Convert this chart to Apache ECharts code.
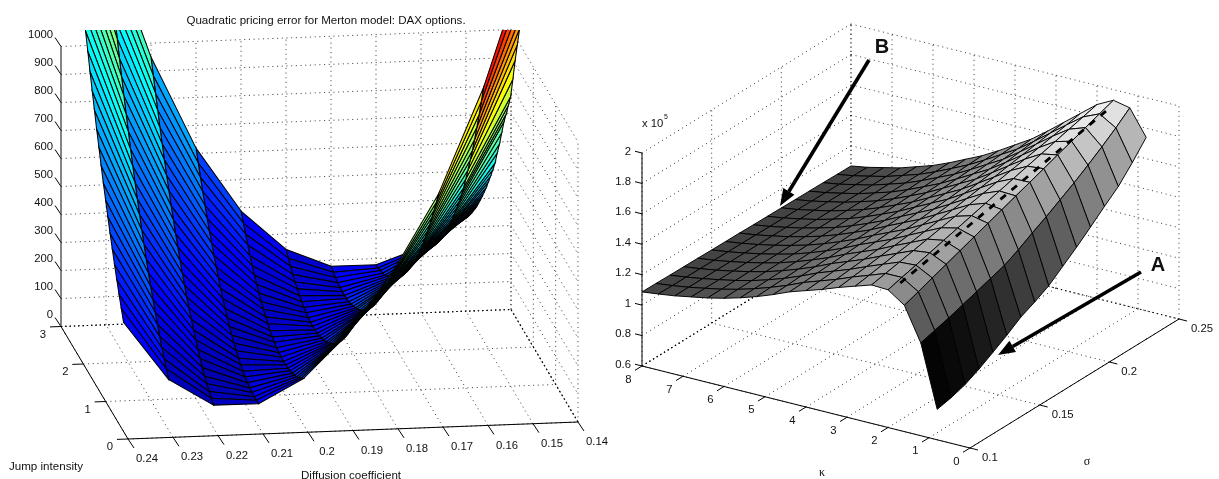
<!DOCTYPE html>
<html><head><meta charset="utf-8">
<style>html,body{margin:0;padding:0;background:#fff}#c{width:1219px;height:479px}</style>
<script src="https://cdn.jsdelivr.net/npm/echarts@6/dist/echarts.min.js"></script>
</head><body><div id="c"></div>
<script>
// ---------- left panel data: quadratic pricing error, one list per diffusion coefficient, jump 0.2..3
const diffusion=[0.15,0.16,0.17,0.18,0.19,0.20,0.21,0.22,0.23,0.24];
const jumpIntensity=[0.2,0.3,0.4,0.5,0.6,0.7,0.8,0.9,1.0,1.1,1.2,1.3,1.4,1.5,1.6,1.7,1.8,1.9,2.0,2.1,2.2,2.3,2.4,2.5,2.6,2.7,2.8,2.9,3.0];
const err015=[1660,1570,1480,1400,1330,1260,1190,1110,1035,990,945,904,851,798,752,703,666,629,595,561,530,500,472,445,419,395,373,351,332];
const err016=[1180,1117,1056,998,941,888,840,791,745,700,662,625,590,556,523,493,464,436,410,385,362,341,321,302,285,269,256,243,233];
const err017=[806,763,722,682,643,606,571,537,505,474,444,417,390,366,342,321,301,282,265,249,235,223,212,203,194,188,184,180,178];
const err018=[538,505,473,443,413,386,361,336,314,292,273,255,238,223,209,197,187,177,170,164,159,157,155,155,156,160,165,171,179];
const err019=[321,298,276,256,236,219,204,190,177,166,156,149,142,137,133,131,131,132,135,139,145,152,160,171,182,196,211,227,245];
const err020=[165,152,141,131,123,117,112,108,106,105,107,110,114,120,126,135,146,157,171,185,202,220,239,260,282,307,333,359,388];
const err021=[81,80,79,81,84,89,96,103,113,123,136,150,165,182,200,220,242,265,290,315,343,373,402,435,468,504,541,579,619];
const err022=[82,93,104,118,132,149,168,187,208,230,255,281,307,336,366,398,432,466,503,540,580,621,663,707,752,800,848,898,950];
const err023=[180,204,227,253,280,310,340,371,405,439,476,515,553,595,637,682,727,774,824,873,925,979,1032,1089,1147,1207,1268,1330,1394];
const err024=[390,426,462,501,541,583,626,671,718,764,814,866,917,972,1027,1084,1143,1202,1265,1326,1392,1459,1525,1595,1665,1738,1812,1887,1964];
const errByDiffusion=[err015,err016,err017,err018,err019,err020,err021,err022,err023,err024];
const bandColorGain=[1.4,1.05,1.2];
const errTicks=[0,100,200,300,400,500,600,700,800,900,1000];
const jumpTicks=[0,1,2,3];
const diffusionTicks=[0.14,0.15,0.16,0.17,0.18,0.19,0.2,0.21,0.22,0.23,0.24];

// ---------- right panel data: surface in units of 1e5, one list per kappa, sigma 0.10..0.25
const sigma=[0.10,0.11,0.12,0.13,0.14,0.15,0.16,0.17,0.18,0.19,0.20,0.21,0.22,0.23,0.24,0.25];
const kappa=[0.8,1.2,1.6,2,2.4,2.8,3.2,3.6,4,4.4,4.8,5.2,5.6,6,6.4,6.8,7.2,7.6,8];
const k08=[.80,.82,.85,.895,.949,1.005,1.067,1.11,1.16,1.23,1.30,1.376,1.455,1.53,1.63,1.74];
const k12=[1.21,1.235,1.26,1.29,1.32,1.35,1.38,1.426,1.48,1.53,1.585,1.64,1.70,1.764,1.832,1.907];
const k16=[1.43,1.463,1.497,1.53,1.563,1.597,1.63,1.663,1.697,1.73,1.763,1.797,1.83,1.863,1.897,1.93];
const k20=[1.505,1.53,1.554,1.579,1.604,1.628,1.653,1.678,1.702,1.727,1.752,1.776,1.801,1.826,1.85,1.875];
const k24=[1.51,1.529,1.547,1.566,1.585,1.603,1.622,1.641,1.659,1.678,1.697,1.715,1.734,1.753,1.771,1.79];
const k28=[1.475,1.49,1.506,1.521,1.536,1.552,1.567,1.582,1.598,1.613,1.628,1.644,1.659,1.674,1.69,1.705];
const k32=[1.44,1.452,1.464,1.476,1.488,1.50,1.512,1.524,1.536,1.548,1.56,1.572,1.584,1.596,1.608,1.62];
const k36=[1.40,1.409,1.419,1.428,1.437,1.447,1.456,1.465,1.475,1.484,1.493,1.503,1.512,1.521,1.531,1.54];
const k40=[1.365,1.372,1.38,1.387,1.394,1.402,1.409,1.416,1.424,1.431,1.438,1.446,1.453,1.46,1.468,1.475];
const k44=[1.33,1.335,1.341,1.346,1.351,1.357,1.362,1.367,1.373,1.378,1.383,1.389,1.394,1.399,1.405,1.41];
const k48=[1.285,1.289,1.294,1.298,1.302,1.307,1.311,1.315,1.32,1.324,1.328,1.333,1.337,1.341,1.346,1.35];
const k52=[1.245,1.249,1.252,1.256,1.26,1.263,1.267,1.271,1.274,1.278,1.282,1.285,1.289,1.293,1.296,1.30];
const k56=[1.21,1.213,1.215,1.218,1.221,1.223,1.226,1.229,1.231,1.234,1.237,1.239,1.242,1.245,1.247,1.25];
const k60=[1.18,1.182,1.183,1.185,1.187,1.188,1.19,1.192,1.193,1.195,1.197,1.198,1.20,1.202,1.203,1.205];
const k64=[1.155,1.156,1.157,1.158,1.159,1.16,1.161,1.162,1.163,1.164,1.165,1.166,1.167,1.168,1.169,1.17];
const k68=[1.135,1.135,1.135,1.135,1.135,1.135,1.135,1.135,1.135,1.135,1.135,1.135,1.135,1.135,1.135,1.135];
const k72=[1.115,1.115,1.115,1.114,1.114,1.114,1.113,1.113,1.113,1.112,1.112,1.112,1.111,1.111,1.11,1.11];
const k76=[1.10,1.099,1.098,1.097,1.096,1.095,1.094,1.093,1.092,1.091,1.09,1.089,1.088,1.087,1.086,1.085];
const k80=[1.087,1.086,1.084,1.083,1.082,1.08,1.079,1.078,1.076,1.075,1.074,1.072,1.071,1.07,1.068,1.067];
const surfaceByKappa=[k08,k12,k16,k20,k24,k28,k32,k36,k40,k44,k48,k52,k56,k60,k64,k68,k72,k76,k80];
const ridgeKappa=1.7;
const ridgeZ=[1.57,1.59,1.61,1.63,1.65,1.67,1.69,1.71,1.73,1.75,1.77,1.79,1.81,1.83,1.85,1.87];
const surfaceTicks=[0.6,0.8,1,1.2,1.4,1.6,1.8,2];
const kappaTicks=[0,1,2,3,4,5,6,7,8];
const sigmaTicks=[0.1,0.15,0.2,0.25];

// ---------- views
const pL=(d,j,z)=>[128+(0.24-d)*4500-22.33*j, 439-(0.24-d)*170-37.5*j-z*0.28];
const pR=(k,s,z)=>[970-41*k+(s-0.1)*1393.3, 448-10.25*k-(s-0.1)*860-(z-0.6)*152.14];
const FONT='"Liberation Sans",Arial,sans-serif';
function jet(t){t=Math.max(0,Math.min(1,t));
  const c=v=>Math.round(255*Math.max(0,Math.min(1,v)));
  return `rgb(${c(1.5-Math.abs(4*t-3))},${c(1.5-Math.abs(4*t-2))},${c(1.5-Math.abs(4*t-1))})`;}
function grey(z){const v=Math.round(255*Math.max(0,Math.min(1,(z-0.78)/1.19)));return `rgb(${v},${v},${v})`;}

// ---------- frame segments
const segs=[];const DOT={stroke:'rgba(0,0,0,.8)',lineWidth:0.9,lineDash:[1.1,3.6]};
const DARK={stroke:'#000',lineWidth:1.1,lineDash:[1.3,3]};const SOLID={stroke:'#000',lineWidth:1};
const add=(a,b,s)=>segs.push([a,b,s]);
const dMin=0.14,dMax=0.24,jMin=0,jMax=3,zMax=1000;
errTicks.forEach(z=>{add(pL(dMax,jMax,z),pL(dMin,jMax,z),z===0?DARK:DOT);add(pL(dMin,jMax,z),pL(dMin,jMin,z),z===0?DARK:DOT);
  const b=pL(dMax,jMax,z);add(b,[b[0]-6,b[1]-9],SOLID);});
diffusionTicks.forEach(d=>{add(pL(d,jMin,0),pL(d,jMax,0),d===dMin?DARK:DOT);if(d!==dMax)add(pL(d,jMax,0),pL(d,jMax,zMax),d===dMin?DARK:DOT);
  const b=pL(d,jMin,0);add(b,[b[0]+6,b[1]+9],SOLID);});
jumpTicks.forEach(j=>{add(pL(dMax,j,0),pL(dMin,j,0),j===jMax?DARK:DOT);if(j!==jMax)add(pL(dMin,j,0),pL(dMin,j,zMax),DOT);
  const b=pL(dMax,j,0);add(b,[b[0]-11,b[1]+0.4],SOLID);});
add(pL(dMax,jMax,0),pL(dMax,jMax,zMax),{stroke:'#333',lineWidth:1.2});add(pL(dMax,jMin,0),pL(dMax,jMax,0),SOLID);add(pL(dMax,jMin,0),pL(dMin,jMin,0),SOLID);

const kMax=8,kMin=0,sMin=0.1,sMax=0.25,zbMin=0.6,zbMax=2;
surfaceTicks.forEach(z=>{add(pR(kMax,sMin,z),pR(kMax,sMax,z),z===zbMin?DARK:DOT);add(pR(kMax,sMax,z),pR(kMin,sMax,z),DOT);
  const b=pR(kMax,sMin,z);add(b,[b[0]-7,b[1]-1.75],SOLID);});
kappaTicks.forEach(k=>{add(pR(k,sMin,zbMin),pR(k,sMax,zbMin),k===kMax?DARK:DOT);if(k!==kMin)add(pR(k,sMax,zbMin),pR(k,sMax,zbMax),k===kMax?DARK:DOT);
  const b=pR(k,sMin,zbMin);add(b,[b[0]-7,b[1]+4.3],SOLID);});
sigmaTicks.forEach(s=>{add(pR(kMin,s,zbMin),pR(kMax,s,zbMin),s===sMax?DARK:DOT);if(s!==sMax)add(pR(kMax,s,zbMin),pR(kMax,s,zbMax),DOT);
  const b=pR(kMin,s,zbMin);add(b,[b[0]+8,b[1]+2],SOLID);});
add(pR(kMin,sMax,zbMin),pR(kMin,sMax,zbMax),DOT);
add(pR(kMax,sMin,zbMin),pR(kMax,sMin,zbMax),SOLID);add(pR(kMin,sMin,zbMin),pR(kMax,sMin,zbMin),SOLID);add(pR(kMin,sMin,zbMin),pR(kMin,sMax,zbMin),SOLID);

// ---------- facets, far to near
const facetsL=[];
for(let r=jumpIntensity.length-2;r>=0;r--)for(let i=0;i<diffusion.length-1;i++){
  const Z=errByDiffusion;const pts=[[i,r],[i+1,r],[i+1,r+1],[i,r+1]].map(([a,b])=>pL(diffusion[a],jumpIntensity[b],Z[a][b]));
  const below=Z[Math.max(i-1,0)];const gain=bandColorGain[i]||1;
  const c=Math.max((Z[i][r+1]+Z[i+1][r+1])/2,below[r]*gain);
  facetsL.push({pts,color:jet(c/2700)});}
const facetsR=[];
for(let a=kappa.length-2;a>=0;a--)for(let b=sigma.length-2;b>=0;b--){
  const Z=surfaceByKappa;const pts=[[a,b],[a+1,b],[a+1,b+1],[a,b+1]].map(([p,q])=>pR(kappa[p],sigma[q],Z[p][q]));
  facetsR.push({pts,color:grey(Z[a][b])});}
const ridge=sigma.map((s,i)=>pR(ridgeKappa,s,ridgeZ[i]));

// ---------- texts
const texts=[];const T=(text,x,y,align,font)=>texts.push({text,x,y,align:align||'center',font:font||`11.3px ${FONT}`});
errTicks.forEach(z=>{const b=pL(dMax,jMax,z);T(String(z),b[0]-8,b[1]-12,'right');});
jumpTicks.forEach(j=>{const b=pL(dMax,j,0);T(String(j),b[0]-18,b[1]+8);});
diffusionTicks.forEach(d=>{const b=pL(d,jMin,0);T(String(d),b[0]+19,b[1]+20);});
T('Jump intensity',46,467,'center',`11.6px ${FONT}`);T('Diffusion coefficient',351,476,'center',`11.6px ${FONT}`);
surfaceTicks.forEach(z=>{const b=pR(kMax,sMin,z);T(String(z),631,b[1]-1.5,'right');});
kappaTicks.forEach(k=>{const b=pR(k,sMin,zbMin);T(String(k),b[0]-13.5,b[1]+13.5);});
sigmaTicks.forEach(s=>{const b=pR(kMin,s,zbMin);T(String(s),b[0]+12,b[1]+10,'left');});
T('x 10',642,124,'left');T('5',664,117,'left',`7px ${FONT}`);
T('κ',822,473,'center',`12px "Liberation Serif",serif`);T('σ',1087,462,'center',`12px "Liberation Serif",serif`);
T('B',882,47,'center',`bold 20px ${FONT}`);T('A',1158,265,'center',`bold 20px ${FONT}`);

const arrows=[[[869,60],[780,206]],[[1141,272],[998,355]]];

const ch=echarts.init(document.getElementById('c'),null,{renderer:'canvas'});
ch.setOption({
  animation:false,backgroundColor:'#fff',
  title:{text:'Quadratic pricing error for Merton model: DAX options.',left:321,top:10,textAlign:'center',
    textStyle:{fontSize:11.55,fontWeight:'normal',color:'#111',fontFamily:'Liberation Sans'}},
  grid:[{left:0,top:0,width:1219,height:479},{left:0,top:30,width:610,height:449}],
  xAxis:[{gridIndex:0,type:'value',min:0,max:1219,show:false},{gridIndex:1,type:'value',min:0,max:610,show:false}],
  yAxis:[{gridIndex:0,type:'value',min:0,max:479,inverse:true,show:false},{gridIndex:1,type:'value',min:30,max:479,inverse:true,show:false}],
  series:[
   {type:'custom',xAxisIndex:0,yAxisIndex:0,silent:true,z:1,clip:false,data:segs.map((_,i)=>[i]),
    renderItem(p,api){const s=segs[api.value(0)];const a=api.coord(s[0]),b=api.coord(s[1]);
      return {type:'line',shape:{x1:a[0],y1:a[1],x2:b[0],y2:b[1]},style:Object.assign({fill:null},s[2])};}},
   {type:'custom',xAxisIndex:1,yAxisIndex:1,silent:true,z:2,clip:true,data:facetsL.map((_,i)=>[i]),
    renderItem(p,api){const f=facetsL[api.value(0)];
      return {type:'polygon',shape:{points:f.pts.map(q=>api.coord(q))},style:{fill:f.color,stroke:'#000',lineWidth:1.05}};}},
   {type:'custom',xAxisIndex:0,yAxisIndex:0,silent:true,z:2,clip:false,data:facetsR.map((_,i)=>[i]),
    renderItem(p,api){const f=facetsR[api.value(0)];
      return {type:'polygon',shape:{points:f.pts.map(q=>api.coord(q))},style:{fill:f.color,stroke:'#000',lineWidth:0.95}};}},
   {type:'custom',xAxisIndex:0,yAxisIndex:0,silent:true,z:3,clip:false,data:[[0]],
    renderItem(p,api){return {type:'polyline',shape:{points:ridge.map(q=>api.coord(q))},style:{fill:null,stroke:'#000',lineWidth:2.8,lineDash:[7,7.5]}};}},
   {type:'custom',xAxisIndex:0,yAxisIndex:0,silent:true,z:4,clip:false,data:arrows.map((_,i)=>[i]),
    renderItem(p,api){const [t,h]=arrows[api.value(0)];const a=api.coord(t),b=api.coord(h);
      const dx=b[0]-a[0],dy=b[1]-a[1],L=Math.hypot(dx,dy),ux=dx/L,uy=dy/L,hl=17,hw=6.5;
      const bx=b[0]-ux*hl,by=b[1]-uy*hl;
      return {type:'group',children:[
        {type:'line',shape:{x1:a[0],y1:a[1],x2:bx,y2:by},style:{stroke:'#000',lineWidth:3.6}},
        {type:'polygon',shape:{points:[b,[bx-uy*hw,by+ux*hw],[bx+uy*hw,by-ux*hw]]},style:{fill:'#000'}}]};}},
   {type:'custom',xAxisIndex:0,yAxisIndex:0,silent:true,z:5,clip:false,data:texts.map((_,i)=>[i]),
    renderItem(p,api){const t=texts[api.value(0)];const c=api.coord([t.x,t.y]);
      return {type:'text',style:{text:t.text,x:c[0],y:c[1],align:t.align,verticalAlign:'middle',font:t.font,fill:'#111'}};}}
  ]
});
</script></body></html>
